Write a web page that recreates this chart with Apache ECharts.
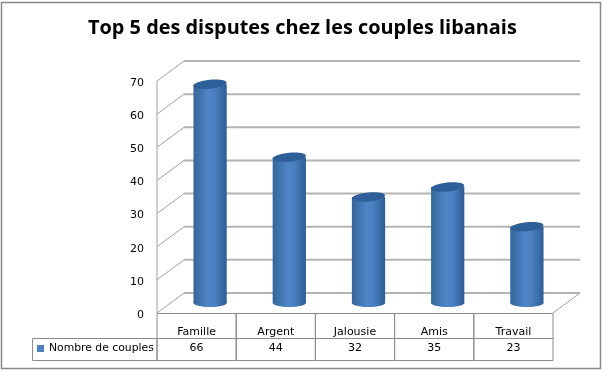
<!DOCTYPE html>
<html>
<head>
<meta charset="utf-8">
<style>
  html, body { margin: 0; padding: 0; background: #fff; }
  #chart { width: 607px; height: 371px; }
</style>
<script src="https://cdn.jsdelivr.net/npm/echarts@6/dist/echarts.min.js"></script>
</head>
<body>
<div id="chart"></div>
<script>
const categories = ['Famille', 'Argent', 'Jalousie', 'Amis', 'Travail']
const couples = [66, 44, 32, 35, 23]
const yTicks = [0, 10, 20, 30, 40, 50, 60, 70]
const seriesName = 'Nombre de couples'

const FONT = '"DejaVu Sans", sans-serif'
const TABLE_LINE = '#8c8c8c'
// profondeur de la fausse 3D
const DX = 27
const DY = -20

const chart = echarts.init(document.getElementById('chart'))

const renderWall = (params, api) => {
  const cs = params.coordSys
  const y = api.coord([0, api.value(1)])[1]
  const right = cs.x + cs.width
  const children = [
    { type: 'line', shape: { x1: cs.x, y1: y, x2: cs.x + DX, y2: y + DY }, style: { stroke: '#a0a0a0', lineWidth: 1 } },
    { type: 'line', shape: { x1: cs.x + DX, y1: y + DY, x2: right + DX, y2: y + DY }, style: { stroke: '#b4b4b4', lineWidth: 2 } }
  ]
  if (api.value(1) === 0) {
    children.push({ type: 'line', shape: { x1: right, y1: y, x2: right + DX, y2: y + DY }, style: { stroke: '#a0a0a0', lineWidth: 1 } })
    children.push({ type: 'line', shape: { x1: cs.x, y1: cs.y, x2: cs.x, y2: y }, style: { stroke: '#a0a0a0', lineWidth: 1 } })
    // case de la légende dans le tableau
    children.push({ type: 'rect', shape: { x: 32.5, y: y + 25.5, width: cs.x - 32.5, height: 22 }, style: { fill: 'none', stroke: TABLE_LINE, lineWidth: 1 } })
  }
  return { type: 'group', children }
}

// une colonne du tableau sous l'axe
const renderCell = (params, api) => {
  const c = api.coord([api.value(0), 0])
  const w = api.size([1, 0])[0]
  return {
    type: 'rect',
    shape: { x: c[0] - w / 2, y: c[1] + 0.5, width: w, height: 47 },
    style: { fill: 'none', stroke: TABLE_LINE, lineWidth: 1 }
  }
}

const renderCylinder = (params, api) => {
  const idx = api.value(0)
  const top = api.coord([idx, api.value(1)])
  const base = api.coord([idx, 0])
  const rx = api.size([1, 0])[0] * 0.21
  const ry = 4
  const cx = top[0] + DX / 2
  const topY = top[1] + DY / 2
  const baseY = base[1] + DY / 2
  const body = new echarts.graphic.LinearGradient(0, 0, 1, 0, [
    { offset: 0, color: '#356699' },
    { offset: 0.45, color: '#4f86c8' },
    { offset: 0.65, color: '#4a7fbf' },
    { offset: 1, color: '#2f5d94' }
  ])
  return {
    type: 'group',
    children: [
      { type: 'ellipse', shape: { cx, cy: baseY, rx, ry }, style: { fill: body } },
      { type: 'rect', shape: { x: cx - rx, y: topY, width: rx * 2, height: baseY - topY }, style: { fill: body } },
      { type: 'ellipse', shape: { cx, cy: topY, rx, ry: ry + 0.5 }, rotation: 0.1, originX: cx, originY: topY, style: { fill: '#2f5f98' } }
    ]
  }
}

chart.setOption({
  animation: false,
  backgroundColor: '#fff',
  title: {
    text: 'Top 5 des disputes chez les couples libanais',
    left: 83,
    top: 13,
    textStyle: { fontFamily: '"Open Sans", sans-serif', fontSize: 19.9, fontWeight: 'bold', color: '#000' }
  },
  legend: {
    data: [seriesName],
    left: 33,
    top: 343,
    itemWidth: 7,
    itemHeight: 7,
    itemGap: 0,
    padding: [0, 0, 0, 4],
    icon: 'rect',
    textStyle: { fontFamily: FONT, fontSize: 10.8, color: '#000', padding: [0, 0, 0, 0] }
  },
  graphic: [{
    type: 'rect',
    shape: { x: 1.5, y: 2.5, width: 599, height: 366 },
    style: { fill: 'none', stroke: '#888', lineWidth: 1.5 },
    silent: true
  }],
  grid: { left: 157, right: 54, top: 81, bottom: 58 },
  xAxis: [
    {
      type: 'category',
      data: categories,
      axisLine: { show: false },
      axisTick: { show: false },
      axisLabel: { margin: 14, fontFamily: FONT, fontSize: 11, color: '#000' }
    },
    {
      type: 'category',
      position: 'bottom',
      offset: 25,
      data: couples.map(String),
      axisLine: { lineStyle: { color: TABLE_LINE, width: 1 } },
      axisTick: { show: false },
      axisLabel: { margin: 5, fontFamily: FONT, fontSize: 11, color: '#000' }
    }
  ],
  yAxis: {
    type: 'value',
    min: 0,
    max: 70,
    interval: 10,
    axisLine: { show: false },
    axisTick: { show: false },
    splitLine: { show: false },
    axisLabel: {
      margin: 13,
      color: '#000',
      formatter: '{a|{value}}',
      rich: { a: { fontFamily: FONT, fontSize: 11, color: '#000', padding: [4, 0, 0, 0] } }
    }
  },
  series: [
    {
      type: 'custom',
      name: 'parois',
      renderItem: renderWall,
      data: yTicks.map(v => [0, v]),
      z: 1,
      silent: true
    },
    {
      type: 'custom',
      name: 'tableau',
      renderItem: renderCell,
      data: categories.map((c, i) => [i, 0]),
      z: 1,
      silent: true
    },
    {
      type: 'custom',
      name: seriesName,
      renderItem: renderCylinder,
      itemStyle: { color: '#4f81bd' },
      data: couples.map((v, i) => [i, v]),
      encode: { x: 0, y: 1 },
      z: 2
    }
  ]
})
</script>
</body>
</html>
